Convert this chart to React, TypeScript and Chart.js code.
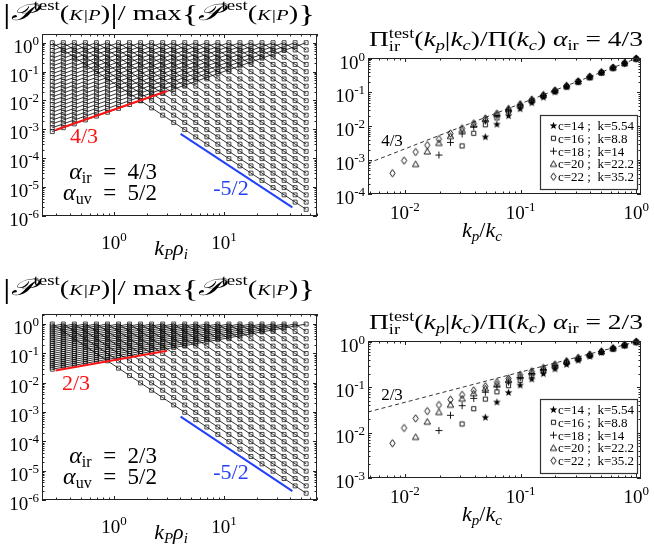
import React, { useEffect, useRef } from "react";
import { Chart, registerables } from "chart.js";

Chart.register(...registerables);

const SERIF = '"Liberation Serif", "DejaVu Serif", serif';
const RED = "rgb(250,20,20)";
const BLUE = "rgb(35,65,250)";

// ---------------- data: left panels ----------------
// shell wavenumbers k_n rho_i, n = 1..24 (marker columns)
const kShells = [
  0.2747, 0.3461, 0.436, 0.5493, 0.6921, 0.872, 1.0987, 1.3842, 1.744, 2.1973, 2.7684, 3.488,
  4.3946, 5.5369, 6.976, 8.7892, 11.074, 13.952, 17.579, 22.147, 27.904, 35.157, 44.295, 55.809,
];
// |P(K|P)|/max at shell offsets 1..23 on the IR side (alpha_ir = 4/3)
const irProfileTop = [
  0.7349, 0.54, 0.3969, 0.2916, 0.2143, 0.1575, 0.1157, 0.08505, 0.0625, 0.04593, 0.03375, 0.0248,
  0.01823, 0.01339, 0.009843, 0.007233, 0.005316, 0.003906, 0.002871, 0.00211, 0.00155, 0.001139, 0.000837,
];
// IR side for alpha_ir = 2/3
const irProfileBottom = [
  0.8573, 0.7349, 0.63, 0.54, 0.4629, 0.3969, 0.3402, 0.2916, 0.25, 0.2143, 0.1837, 0.1575, 0.135,
  0.1157, 0.09922, 0.08505, 0.07291, 0.0625, 0.05358, 0.04593, 0.03937, 0.03375, 0.02893,
];
// UV side (alpha_uv = 5/2), offsets 1..23
const uvProfile = [
  0.5612, 0.315, 0.1768, 0.09921, 0.05568, 0.03125, 0.01754, 0.009843, 0.005524, 0.0031, 0.00174,
  0.0009766, 0.0005481, 0.0003076, 0.0001726, 9.689e-5, 5.438e-5, 3.052e-5, 1.713e-5, 9.612e-6,
  5.395e-6, 3.028e-6, 1.699e-6,
];
const redTopX = [0.294, 3.04];
const redTopY = [9.5e-4, 0.0213];
const redBotX = [0.294, 3.04];
const redBotY = [0.026, 0.123];
const blueX = [4.03, 41.8];
const blueY = [7.0e-4, 2.0e-6];

// ---------------- data: right panels ----------------
const kpOverKc = [
  0.007813, 0.009843, 0.0124, 0.015625, 0.01969, 0.0248, 0.03125, 0.03937, 0.04961, 0.0625, 0.07875,
  0.09921, 0.125, 0.1575, 0.1984, 0.25, 0.315, 0.3969, 0.5, 0.63, 0.7937, 1,
];
const legendLabels = ["c=14 ;  k=5.54", "c=16 ;  k=8.8", "c=18 ;  k=14", "c=20 ;  k=22.2", "c=22 ;  k=35.2"];
const piTopC14 = [0.004898, 0.01156, 0.02063, 0.03298, 0.04977, 0.07263, 0.1037, 0.1461, 0.2036, 0.282, 0.3886, 0.5338, 0.7313, 1];
const piTopC16 = [0.002629, 0.006206, 0.01107, 0.0177, 0.02671, 0.03898, 0.05567, 0.07838, 0.1093, 0.1514, 0.2086, 0.2865, 0.3925, 0.5367, 0.7329, 1];
const piTopC18 = [0.001415, 0.00334, 0.00596, 0.009525, 0.01438, 0.02098, 0.02996, 0.04219, 0.05882, 0.08146, 0.1123, 0.1542, 0.2112, 0.2889, 0.3945, 0.5382, 0.7338, 1];
const piTopC20 = [0.000763, 0.0018, 0.003213, 0.005135, 0.00775, 0.01131, 0.01615, 0.02274, 0.03171, 0.04391, 0.06052, 0.08312, 0.1139, 0.1557, 0.2127, 0.2901, 0.3956, 0.5391, 0.7343, 1];
const piTopC22 = [0.000411, 0.000971, 0.001733, 0.00277, 0.004181, 0.006101, 0.008714, 0.01227, 0.01711, 0.02369, 0.03265, 0.04484, 0.06143, 0.08401, 0.1147, 0.1565, 0.2134, 0.2908, 0.3962, 0.5395, 0.7346, 1];
const piBotC14 = [0.02179, 0.04722, 0.07688, 0.1115, 0.1519, 0.1989, 0.2538, 0.3179, 0.3927, 0.4798, 0.5815, 0.7002, 0.8386, 1];
const piBotC16 = [0.01548, 0.03354, 0.0546, 0.07917, 0.1079, 0.1413, 0.1803, 0.2258, 0.2789, 0.3408, 0.413, 0.4973, 0.5956, 0.7102, 0.8439, 1];
const piBotC18 = [0.0111, 0.02405, 0.03916, 0.05678, 0.07735, 0.1013, 0.1293, 0.1619, 0.2, 0.2444, 0.2962, 0.3566, 0.4271, 0.5094, 0.6053, 0.7172, 0.8477, 1];
const piBotC20 = [0.008015, 0.01737, 0.02828, 0.041, 0.05585, 0.07316, 0.09336, 0.1169, 0.1444, 0.1765, 0.2139, 0.2575, 0.3084, 0.3678, 0.4371, 0.5179, 0.6121, 0.7221, 0.8503, 1];
const piBotC22 = [0.005816, 0.0126, 0.02052, 0.02975, 0.04053, 0.05309, 0.06775, 0.08485, 0.1048, 0.1281, 0.1552, 0.1869, 0.2238, 0.2669, 0.3172, 0.3758, 0.4442, 0.524, 0.617, 0.7256, 0.8523, 1];
const dashX = [0.0048, 1];
const dashTopY = [8.09e-4, 1];
const dashBotY = [0.02844, 1];

// ---------------- helpers ----------------
type Pt = { x: number; y: number };
const pts = (xs: number[], ys: number[]): Pt[] => ys.map((y, i) => ({ x: xs[i], y }));

type Run = { t: string; size: number; italic?: boolean; dy?: number; color?: string; under?: Run };
const fontOf = (r: Run) => `${r.italic ? "italic " : ""}${r.size}px ${SERIF}`;

// draws a row of text runs; if `target` is given the row is stretched horizontally to that width
function drawRuns(
  ctx: CanvasRenderingContext2D,
  runs: Run[],
  x: number,
  y: number,
  align: "left" | "center" | "right",
  target?: number
) {
  const ws = runs.map((r) => {
    ctx.font = fontOf(r);
    let w = ctx.measureText(r.t).width;
    if (r.under) {
      ctx.font = fontOf(r.under);
      w = Math.max(w, ctx.measureText(r.under.t).width);
    }
    return w;
  });
  const natural = ws.reduce((a, b) => a + b, 0);
  const sx = target ? target / natural : 1;
  const total = natural * sx;
  const x0 = align === "left" ? x : align === "center" ? x - total / 2 : x - total;
  ctx.save();
  ctx.translate(x0, y);
  ctx.scale(sx, 1);
  ctx.textAlign = "left";
  ctx.textBaseline = "alphabetic";
  let cx = 0;
  runs.forEach((r, i) => {
    ctx.font = fontOf(r);
    ctx.fillStyle = r.color || "#000";
    ctx.fillText(r.t, cx, r.dy || 0);
    if (r.under) {
      ctx.font = fontOf(r.under);
      ctx.fillStyle = r.under.color || "#000";
      ctx.fillText(r.under.t, cx, r.under.dy || 0);
    }
    cx += ws[i];
  });
  ctx.restore();
  return total;
}

const powRuns = (e: number): Run[] => [
  { t: "10", size: 19 },
  { t: String(e), size: 13, dy: -8 },
];

function logTicks(min: number, max: number): [number, boolean][] {
  const out: [number, boolean][] = [];
  for (let e = Math.floor(Math.log10(min)) - 1; e <= Math.ceil(Math.log10(max)); e++) {
    for (let m = 1; m <= 9; m++) {
      const v = m * Math.pow(10, e);
      if (v >= min * (1 - 1e-9) && v <= max * (1 + 1e-9)) out.push([v, m === 1]);
    }
  }
  return out;
}

function drawAxes(chart: any, xLabDy: number) {
  const ctx: CanvasRenderingContext2D = chart.ctx;
  const a = chart.chartArea;
  const xs = chart.scales.x;
  const ys = chart.scales.y;
  ctx.save();
  ctx.strokeStyle = "#222";
  ctx.lineWidth = 1;
  ctx.beginPath();
  const xt = logTicks(xs.min, xs.max);
  const yt = logTicks(ys.min, ys.max);
  for (const [v, major] of xt) {
    const px = Math.round(xs.getPixelForValue(v)) + 0.5;
    const L = major ? 4 : 2.5;
    ctx.moveTo(px, a.bottom);
    ctx.lineTo(px, a.bottom - L);
    ctx.moveTo(px, a.top);
    ctx.lineTo(px, a.top + L);
  }
  for (const [v, major] of yt) {
    const py = Math.round(ys.getPixelForValue(v)) + 0.5;
    const L = major ? 4 : 2.5;
    ctx.moveTo(a.left, py);
    ctx.lineTo(a.left + L, py);
    ctx.moveTo(a.right, py);
    ctx.lineTo(a.right - L, py);
  }
  ctx.stroke();
  ctx.strokeRect(a.left + 0.5, a.top + 0.5, a.right - a.left - 1, a.bottom - a.top - 1);
  for (const [v, major] of yt) {
    if (!major) continue;
    drawRuns(ctx, powRuns(Math.round(Math.log10(v))), a.left - 3, ys.getPixelForValue(v) + 10, "right");
  }
  for (const [v, major] of xt) {
    if (!major) continue;
    drawRuns(ctx, powRuns(Math.round(Math.log10(v))), xs.getPixelForValue(v), a.bottom + xLabDy, "center");
  }
  ctx.restore();
}

const PS = "\u{1D4AB}";
const leftTitle: Run[] = [
  { t: "|", size: 28, dy: 3 },
  { t: PS, size: 23, italic: true },
  { t: "test", size: 14, dy: -10 },
  { t: "(", size: 21 },
  { t: "K|P", size: 15, italic: true },
  { t: ")", size: 21 },
  { t: "|", size: 28, dy: 3 },
  { t: "/ max", size: 21 },
  { t: "{", size: 26, dy: 2 },
  { t: PS, size: 23, italic: true },
  { t: "test", size: 14, dy: -10 },
  { t: "(", size: 21 },
  { t: "K|P", size: 15, italic: true },
  { t: ")", size: 21 },
  { t: "}", size: 26, dy: 2 },
];

const rightTitle = (alpha: string): Run[] => [
  { t: "\u03A0", size: 21 },
  { t: "test", size: 14, dy: -8, under: { t: "ir", size: 14, dy: 5 } },
  { t: "(", size: 21 },
  { t: "k", size: 21, italic: true },
  { t: "p", size: 14, italic: true, dy: 4 },
  { t: "|", size: 21 },
  { t: "k", size: 21, italic: true },
  { t: "c", size: 14, italic: true, dy: 4 },
  { t: ")/\u03A0(", size: 21 },
  { t: "k", size: 21, italic: true },
  { t: "c", size: 14, italic: true, dy: 4 },
  { t: ") ", size: 21 },
  { t: "\u03B1", size: 21, italic: true },
  { t: "ir", size: 14, dy: 4 },
  { t: " = " + alpha, size: 21 },
];

function buildCurves(ir: number[]): Pt[][] {
  return kShells.map((_, i) =>
    kShells.map((kx, j) => ({ x: kx, y: j === i ? 1 : j < i ? ir[i - j - 1] : uvProfile[j - i - 1] }))
  );
}

function makeMarker(kind: string): HTMLCanvasElement {
  const c = document.createElement("canvas");
  c.width = 11;
  c.height = 11;
  const g = c.getContext("2d")!;
  g.strokeStyle = "#000";
  g.fillStyle = "#000";
  g.lineWidth = 0.9;
  const m = 5.5;
  g.beginPath();
  if (kind === "star") {
    for (let i = 0; i < 10; i++) {
      const r = i % 2 === 0 ? 4 : 1.7;
      const ang = -Math.PI / 2 + (i * Math.PI) / 5;
      const px = m + r * Math.cos(ang);
      const py = m + 0.3 + r * Math.sin(ang);
      if (i === 0) g.moveTo(px, py);
      else g.lineTo(px, py);
    }
    g.closePath();
    g.fill();
  } else if (kind === "square") {
    g.rect(3.4, 3.4, 4.2, 4.2);
    g.stroke();
  } else if (kind === "plus") {
    g.moveTo(m, 2);
    g.lineTo(m, 9);
    g.moveTo(2, m);
    g.lineTo(9, m);
    g.stroke();
  } else if (kind === "triangle") {
    g.moveTo(m, 2.3);
    g.lineTo(8.7, 8);
    g.lineTo(2.3, 8);
    g.closePath();
    g.stroke();
  } else {
    g.moveTo(m, 1.8);
    g.lineTo(8.1, m);
    g.lineTo(m, 9.2);
    g.lineTo(2.9, m);
    g.closePath();
    g.stroke();
  }
  return c;
}

const baseOptions = (pad: any, xr: number[], yr: number[]) => ({
  responsive: false,
  animation: false as const,
  events: [] as any[],
  layout: { padding: pad },
  plugins: { legend: { display: false }, tooltip: { enabled: false }, title: { display: false } },
  scales: {
    x: { type: "logarithmic" as const, min: xr[0], max: xr[1], display: false },
    y: { type: "logarithmic" as const, min: yr[0], max: yr[1], display: false },
  },
});

function buildLeft(canvas: HTMLCanvasElement, bottom: boolean): Chart {
  const curves = buildCurves(bottom ? irProfileBottom : irProfileTop);
  const pad = bottom ? { left: 42, top: 40, right: 10, bottom: 48 } : { left: 42, top: 34, right: 10, bottom: 58 };
  const yr = bottom ? [1e-6, 2.2] : [1e-6, 2];
  const datasets: any[] = [
    { data: pts(bottom ? redBotX : redTopX, bottom ? redBotY : redTopY), showLine: true, borderColor: RED, borderWidth: 2, pointRadius: 0, order: 0 },
    { data: pts(blueX, blueY), showLine: true, borderColor: BLUE, borderWidth: 2, pointRadius: 0, order: 0 },
    ...curves.map((c) => ({
      data: c,
      showLine: true,
      borderColor: "#000",
      borderWidth: 0.8,
      pointStyle: "rect",
      pointRadius: 2.8,
      pointBorderColor: "#1a1a1a",
      pointBackgroundColor: "rgba(0,0,0,0)",
      pointBorderWidth: 0.8,
      order: 1,
      clip: false,
    })),
  ];
  const deco = {
    id: "deco",
    afterDatasetsDraw(chart: any) {
      drawAxes(chart, 33);
    },
    afterDraw(chart: any) {
      const ctx: CanvasRenderingContext2D = chart.ctx;
      const a = chart.chartArea;
      drawRuns(ctx, leftTitle, 3, bottom ? 21 : 20, "left", 312);
      drawRuns(
        ctx,
        [
          { t: "k", size: 22, italic: true },
          { t: "P", size: 15, italic: true, dy: 4 },
          { t: "\u03C1", size: 22, italic: true },
          { t: "i", size: 15, italic: true, dy: 4 },
        ],
        171,
        a.bottom + 39,
        "center"
      );
      const al = bottom ? "2/3" : "4/3";
      drawRuns(
        ctx,
        [{ t: "\u03B1", size: 24, italic: true }, { t: "ir", size: 16, dy: 4 }, { t: "\u2002=\u2002" + al, size: 23 }],
        157,
        a.bottom - 37,
        "right"
      );
      drawRuns(
        ctx,
        [{ t: "\u03B1", size: 24, italic: true }, { t: "uv", size: 16, dy: 4 }, { t: "\u2002=\u20025/2", size: 23 }],
        157,
        a.bottom - 16,
        "right"
      );
      drawRuns(ctx, [{ t: al, size: 22, color: RED }], bottom ? 76 : 84, bottom ? 116 : 143, "center");
      drawRuns(ctx, [{ t: "-5/2", size: 22, color: BLUE }], 231, a.bottom - 21, "center");
    },
  };
  return new Chart(canvas, {
    type: "scatter",
    data: { datasets },
    options: baseOptions(pad, [0.2215, 70], yr) as any,
    plugins: [deco],
  });
}

function buildRight(canvas: HTMLCanvasElement, bottom: boolean): Chart {
  const markers = ["star", "square", "plus", "triangle", "diamond"].map(makeMarker);
  const series = bottom
    ? [piBotC14, piBotC16, piBotC18, piBotC20, piBotC22]
    : [piTopC14, piTopC16, piTopC18, piTopC20, piTopC22];
  const pad = bottom ? { left: 41, top: 67, right: 13, bottom: 70 } : { left: 41, top: 58, right: 13, bottom: 80 };
  const yr = bottom ? [1e-3, 1.04] : [1e-4, 1.04];
  const datasets: any[] = [
    {
      data: pts(dashX, bottom ? dashBotY : dashTopY),
      showLine: true,
      borderColor: "#000",
      borderWidth: 0.8,
      borderDash: [4, 3],
      pointRadius: 0,
      order: 2,
    },
    ...series.map((vals, s) => ({
      data: pts(kpOverKc.slice(kpOverKc.length - vals.length), vals),
      showLine: false,
      pointStyle: markers[s],
      pointRadius: 4,
      order: 1,
      clip: false,
    })),
  ];
  const deco = {
    id: "deco",
    afterDatasetsDraw(chart: any) {
      drawAxes(chart, 25);
    },
    afterDraw(chart: any) {
      const ctx: CanvasRenderingContext2D = chart.ctx;
      const a = chart.chartArea;
      drawRuns(ctx, rightTitle(bottom ? "2/3" : "4/3"), a.left + 1, a.top - 12, "left", 274);
      drawRuns(
        ctx,
        [
          { t: "k", size: 22, italic: true },
          { t: "p", size: 15, italic: true, dy: 4 },
          { t: "/", size: 22 },
          { t: "k", size: 22, italic: true },
          { t: "c", size: 15, italic: true, dy: 4 },
        ],
        155,
        a.bottom + 43,
        "center"
      );
      drawRuns(ctx, [{ t: bottom ? "2/3" : "4/3", size: 17 }], 65, bottom ? 126 : 146, "center");
      // legend
      const bw = 97;
      const bh = 74;
      const bx = a.right - 4 - bw;
      const by = a.bottom - 5 - bh;
      ctx.save();
      ctx.fillStyle = "#fff";
      ctx.fillRect(bx, by, bw, bh);
      ctx.strokeStyle = "#333";
      ctx.lineWidth = 1.2;
      ctx.strokeRect(bx + 0.5, by + 0.5, bw, bh);
      legendLabels.forEach((lab, i) => {
        const cy = by + 10.5 + i * 12.8;
        ctx.drawImage(markers[i], bx + 13.5 - 5.5, cy - 5.5);
        drawRuns(ctx, [{ t: lab, size: 13 }], bx + 18, cy + 4.5, "left");
      });
      ctx.restore();
    },
  };
  return new Chart(canvas, {
    type: "scatter",
    data: { datasets },
    options: baseOptions(pad, [0.0048, 1.1], yr) as any,
    plugins: [deco],
  });
}

function ChartCanvas({ left, top, build }: { left: number; top: number; build: (c: HTMLCanvasElement) => Chart }) {
  const ref = useRef<HTMLCanvasElement>(null);
  useEffect(() => {
    const ch = build(ref.current!);
    return () => ch.destroy();
  }, []);
  return <canvas ref={ref} width={327} height={274} style={{ position: "absolute", left, top, width: 327, height: 274 }} />;
}

export default function App() {
  return (
    <div style={{ position: "absolute", left: 0, top: 0, width: 654, height: 548, background: "#fff", overflow: "hidden" }}>
      <ChartCanvas left={0} top={0} build={(c) => buildLeft(c, false)} />
      <ChartCanvas left={327} top={0} build={(c) => buildRight(c, false)} />
      <ChartCanvas left={0} top={274} build={(c) => buildLeft(c, true)} />
      <ChartCanvas left={327} top={274} build={(c) => buildRight(c, true)} />
    </div>
  );
}
